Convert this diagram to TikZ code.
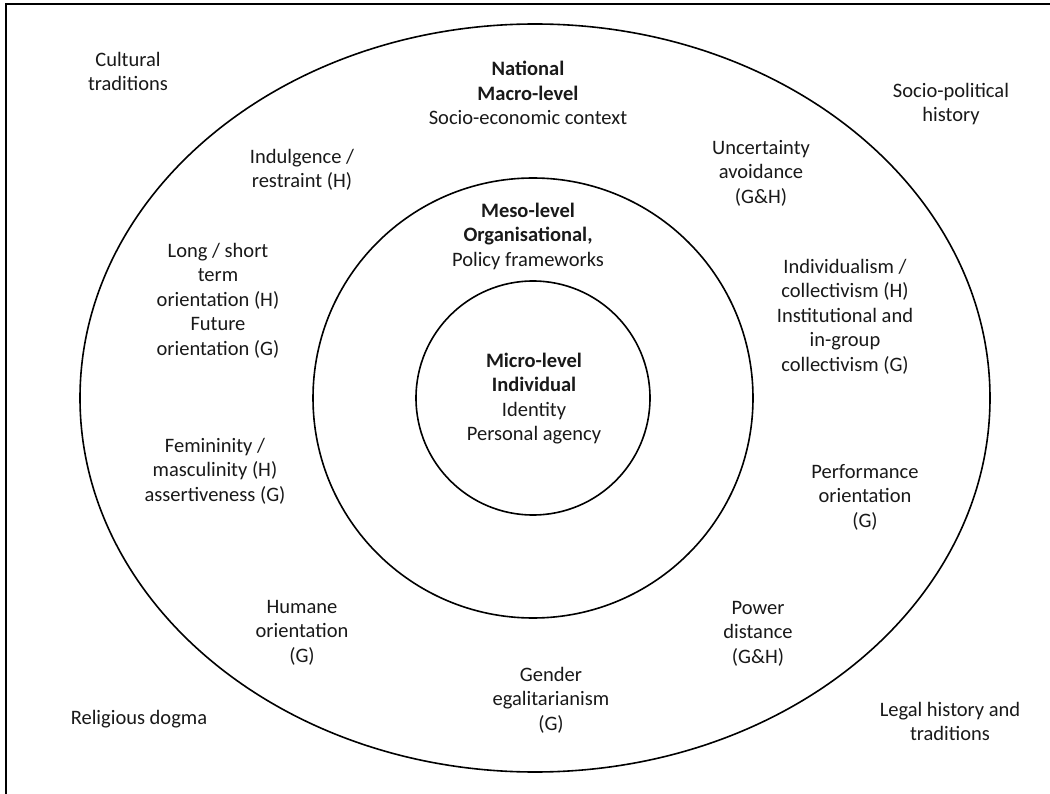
\documentclass[tikz,border=0pt]{standalone}
\usepackage{fontspec}
\setmainfont{Carlito}
\begin{document}
\begin{tikzpicture}[x=1pt,y=-1pt,
  lbl/.style={anchor=north, align=center, inner sep=0pt, text=black!90,
    font=\fontsize{20.5}{24.5}\selectfont,
    execute at begin node=\strut, execute at end node=\strut},
  ring/.style={draw=black, line width=1.6pt},
  frame/.style={draw=black, line width=2.4pt}]
\useasboundingbox (0,0) rectangle (1050,794);
\fill[white] (0,0) rectangle (1050,794);
% frame (only left and top edges lie in the picture)
\draw[frame] (6,794) -- (6,4) -- (1050,4);
% rings
\draw[ring] (535,398) ellipse [x radius=455pt, y radius=374pt];
\draw[ring] (533,398) circle [radius=220pt];
\draw[ring] (533,398) circle [radius=117pt];
% outside the outer ring
\node[lbl] (cultural) at (128,51.9) {Cultural\\traditions};
\node[lbl] (sociopol) at (951,82.9) {Socio-political\\history};
\node[lbl] (religious) at (139,706.9) {Religious dogma};
\node[lbl] (legal) at (950,701.9) {Legal history and\\traditions};
% macro level
\node[lbl] (national) at (528,60.9) {\textbf{National}\\\textbf{Macro-level}\\Socio-economic context};
\node[lbl] (indulgence) at (302,148.9) {Indulgence /\\restraint (H)};
\node[lbl] (uncertainty) at (761,139.9) {Uncertainty\\avoidance\\(G\&H)};
\node[lbl] (longshort) at (218,242.9) {Long / short\\term\\orientation (H)\\Future\\orientation (G)};
\node[lbl] (individualism) at (845,258.9) {Individualism /\\collectivism (H)\\Institutional and\\in-group\\collectivism (G)};
\node[lbl] (feminine) at (215,437.9) {Femininity /\\masculinity (H)\\assertiveness (G)};
\node[lbl] (performance) at (865,463.9) {Performance\\orientation\\(G)};
\node[lbl] (humane) at (302,599.9) {Humane\\orientation\\(G)};
\node[lbl] (power) at (758,600.9) {Power\\distance\\(G\&H)};
\node[lbl] (gender) at (551,666.9) {Gender\\egalitarianism\\(G)};
% meso level
\node[lbl] (meso) at (528,202.9) {\textbf{Meso-level}\\\textbf{Organisational,}\\Policy frameworks};
% micro level
\node[lbl] (micro) at (534,352.9) {\textbf{Micro-level}\\\textbf{Individual}\\Identity\\Personal agency};
\end{tikzpicture}
\end{document}
